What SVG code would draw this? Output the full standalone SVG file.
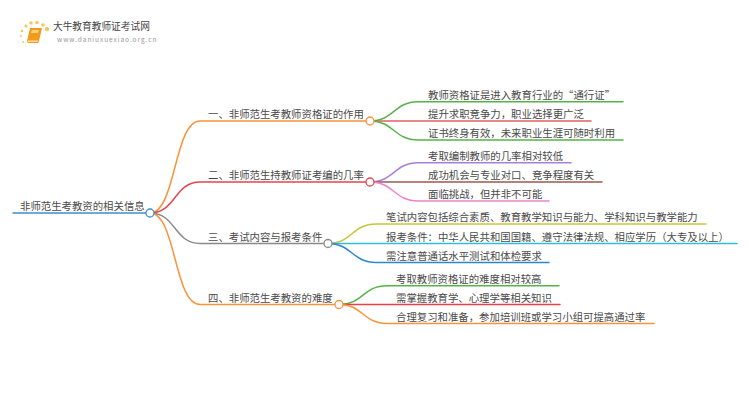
<svg xmlns="http://www.w3.org/2000/svg" width="750" height="410" viewBox="0 0 750 410">
<style>
text{font-family:"Noto Sans CJK SC","Liberation Sans",sans-serif;font-size:10.4px;fill:#4a4a4a}
.l{fill:none;stroke-width:1.5;stroke-linecap:round}
.d{fill:#fff;stroke-width:1.3}
</style>
<rect width="750" height="410" fill="#fff"/>
<g id="logo">
<g fill="#f9c65c"><circle cx="47" cy="29" r="2.2"/><circle cx="43" cy="25" r="1.8"/><circle cx="37" cy="22.500" r="1.800"/><circle cx="31" cy="23" r="1.800"/><circle cx="26" cy="26" r="1.500"/><circle cx="22" cy="31" r="1.300"/><circle cx="21" cy="36" r="1"/><circle cx="23" cy="42" r="1"/></g>
<path d="M30 28h12l-3 13-1 2H28l-1-2z" fill="#f39a1d"/><path d="M32 30h7l-1 3h-7z" fill="#ffd27a"/><path d="M28 40.500h10l-.5 1.500H28z" fill="#ffe0a8"/>
<text x="53" y="30" style="font-size:9.700px;fill:#444">大牛教育教师证考试网</text>
<text x="57" y="41.500" style="font-size:6.500px;letter-spacing:.95px;fill:#999">www.daniuxuexiao.org.cn</text>
</g>
<g id="connectors">
<path class="l" stroke="#3f8fca" d="M13 213H150"/>
<path class="l" stroke="#f7933a" d="M150 213C176 213 174 121 200 121H370"/>
<path class="l" stroke="#e4464e" d="M150 213C176 213 174 182 200 182H370"/>
<path class="l" stroke="#8a8a8a" d="M150 213C176 213 174 243.500 200 243.500H328"/>
<path class="l" stroke="#f7933a" d="M150 213C176 213 174 304.500 200 304.500H339"/>
<path class="l" stroke="#55b348" d="M370 121C394 121 394 101.800 418 101.800H623"/>
<path class="l" stroke="#e0605f" d="M370 121H591"/>
<path class="l" stroke="#55b348" d="M370 121C394 121 394 140 418 140H623"/>
<path class="l" stroke="#a97fd6" d="M370 182C394 182 394 162.700 418 162.700H571"/>
<path class="l" stroke="#9a5a50" d="M370 182H602"/>
<path class="l" stroke="#ee82c8" d="M370 182C394 182 394 201 418 201H549"/>
<path class="l" stroke="#c9c63a" d="M328 243.500C352 243.500 352 224 376 224H706"/>
<path class="l" stroke="#2fc0d6" d="M328 243.500H737"/>
<path class="l" stroke="#2f86c8" d="M328 243.500C352 243.500 352 262.500 376 262.500H549"/>
<path class="l" stroke="#55b348" d="M339 304.500C363 304.500 363 285.700 387 285.700H559"/>
<path class="l" stroke="#ee3f47" d="M339 304.500H560"/>
<path class="l" stroke="#f7933a" d="M339 304.500C363 304.500 363 323.500 387 323.500H654"/>
</g>
<g id="root"><text x="20" y="210">非师范生考教资的相关信息</text><circle class="d" stroke="#3f8fca" cx="150" cy="213" r="4"/></g>
<g id="b1"><text x="208" y="118">一、非师范生考教师资格证的作用</text><circle class="d" stroke="#f7933a" cx="370" cy="121" r="4"/></g>
<g id="b2"><text x="208" y="179">二、非师范生持教师证考编的几率</text><circle class="d" stroke="#e4464e" cx="370" cy="182" r="4"/></g>
<g id="b3"><text x="208" y="240.500">三、考试内容与报考条件</text><circle class="d" stroke="#8a8a8a" cx="328" cy="243.500" r="4"/></g>
<g id="b4"><text x="208" y="301.500">四、非师范生考教资的难度</text><circle class="d" stroke="#f7933a" cx="339" cy="304.500" r="4"/></g>
<g id="n11"><text x="428" y="98.800">教师资格证是进入教育行业的“通行证”</text></g>
<g id="n12"><text x="428" y="118">提升求职竞争力，职业选择更广泛</text></g>
<g id="n13"><text x="428" y="137">证书终身有效，未来职业生涯可随时利用</text></g>
<g id="n21"><text x="428" y="159.700">考取编制教师的几率相对较低</text></g>
<g id="n22"><text x="428" y="179">成功机会与专业对口、竞争程度有关</text></g>
<g id="n23"><text x="428" y="198">面临挑战，但并非不可能</text></g>
<g id="n31"><text x="386" y="221">笔试内容包括综合素质、教育教学知识与能力、学科知识与教学能力</text></g>
<g id="n32"><text x="386" y="240.500">报考条件：中华人民共和国国籍、遵守法律法规、相应学历（大专及以上）</text></g>
<g id="n33"><text x="386" y="259.500">需注意普通话水平测试和体检要求</text></g>
<g id="n41"><text x="396" y="282.700">考取教师资格证的难度相对较高</text></g>
<g id="n42"><text x="396" y="301.500">需掌握教育学、心理学等相关知识</text></g>
<g id="n43"><text x="396" y="320.500">合理复习和准备，参加培训班或学习小组可提高通过率</text></g>
</svg>
